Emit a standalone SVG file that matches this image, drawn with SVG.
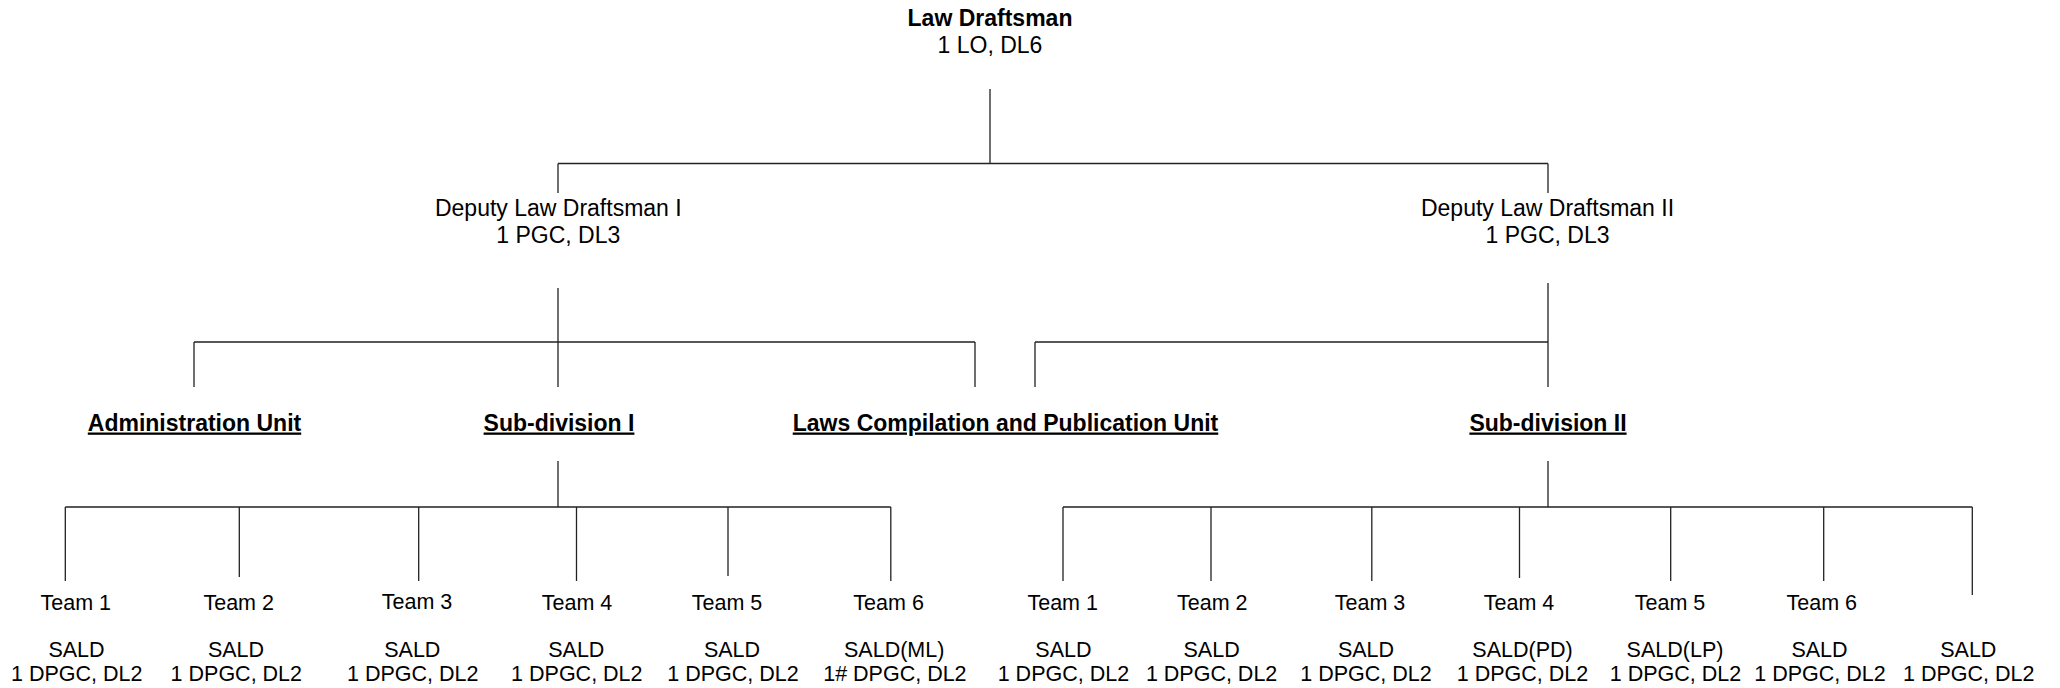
<svg xmlns="http://www.w3.org/2000/svg" width="2060" height="688" viewBox="0 0 2060 688">
<style>
text{font-family:"Liberation Sans",Arial,sans-serif;fill:#000;text-anchor:middle}
.t0{font-size:23px;font-weight:bold}
.t1{font-size:23px}
.t2{font-size:23px;font-weight:bold;text-decoration:underline}
.t3{font-size:21.5px}
.c{stroke:#222;stroke-width:1.3;fill:none}
</style>
<rect width="2060" height="688" fill="#fff"/>
<g id="connectors" class="c">
<path d="M990 89V163.5M558 163.5H1548M558 163.5V193M1548 163.5V193"/>
<path d="M558 288V387M194 342H975M194 342V387M975 342V387"/>
<path d="M1548 283V387M1035 342H1548M1035 342V387"/>
<path d="M558 461V507M65.3 507H890.8M65.3 507V581M239.3 507V577M418.7 507V581M576.5 507V581M728 507V576M890.8 507V581"/>
<path d="M1548 461V507M1063 507H1972.3M1063 507V581M1211 507V581M1371.8 507V581M1519.5 507V578M1670.7 507V581M1823.7 507V581M1972.3 507V595"/>
</g>
<g id="law-draftsman"><text class="t0" x="990" y="26">Law Draftsman</text><text class="t1" x="990" y="53.3">1 LO, DL6</text></g>
<g id="dld1"><text class="t1" x="558.3" y="215.7">Deputy Law Draftsman I</text><text class="t1" x="558.3" y="243.3">1 PGC, DL3</text></g>
<g id="dld2"><text class="t1" x="1547.5" y="215.7">Deputy Law Draftsman II</text><text class="t1" x="1547.5" y="243.3">1 PGC, DL3</text></g>
<g id="admin-unit"><text class="t2" x="194.5" y="430.5">Administration Unit</text></g>
<g id="subdiv1"><text class="t2" x="559" y="430.5">Sub-division I</text></g>
<g id="lcpu"><text class="t2" x="1005.5" y="430.5">Laws Compilation and Publication Unit</text></g>
<g id="subdiv2"><text class="t2" x="1548" y="430.5">Sub-division II</text></g>
<g id="s1-team1" class="t3"><text class="t3" x="75.8" y="610">Team 1</text><text class="t3" x="76.5" y="656.7">SALD</text><text class="t3" x="76.7" y="681">1 DPGC, DL2</text></g>
<g id="s1-team2"><text class="t3" x="238.7" y="610">Team 2</text><text class="t3" x="236" y="656.7">SALD</text><text class="t3" x="236.3" y="681">1 DPGC, DL2</text></g>
<g id="s1-team3"><text class="t3" x="417" y="609">Team 3</text><text class="t3" x="412.3" y="656.7">SALD</text><text class="t3" x="412.7" y="681">1 DPGC, DL2</text></g>
<g id="s1-team4"><text class="t3" x="577" y="610">Team 4</text><text class="t3" x="576.3" y="656.7">SALD</text><text class="t3" x="576.8" y="681">1 DPGC, DL2</text></g>
<g id="s1-team5"><text class="t3" x="727" y="610">Team 5</text><text class="t3" x="732" y="656.7">SALD</text><text class="t3" x="733" y="681">1 DPGC, DL2</text></g>
<g id="s1-team6"><text class="t3" x="888.6" y="610">Team 6</text><text class="t3" x="894.2" y="656.7">SALD(ML)</text><text class="t3" x="894.9" y="681">1# DPGC, DL2</text></g>
<g id="s2-team1"><text class="t3" x="1062.7" y="610">Team 1</text><text class="t3" x="1063.4" y="656.7">SALD</text><text class="t3" x="1063.4" y="681">1 DPGC, DL2</text></g>
<g id="s2-team2"><text class="t3" x="1212.3" y="610">Team 2</text><text class="t3" x="1211.6" y="656.7">SALD</text><text class="t3" x="1211.6" y="681">1 DPGC, DL2</text></g>
<g id="s2-team3"><text class="t3" x="1370" y="610">Team 3</text><text class="t3" x="1366" y="656.7">SALD</text><text class="t3" x="1366" y="681">1 DPGC, DL2</text></g>
<g id="s2-team4"><text class="t3" x="1519" y="610">Team 4</text><text class="t3" x="1522.5" y="656.7">SALD(PD)</text><text class="t3" x="1522.5" y="681">1 DPGC, DL2</text></g>
<g id="s2-team5"><text class="t3" x="1670" y="610">Team 5</text><text class="t3" x="1675" y="656.7">SALD(LP)</text><text class="t3" x="1675.5" y="681">1 DPGC, DL2</text></g>
<g id="s2-team6"><text class="t3" x="1821.8" y="610">Team 6</text><text class="t3" x="1819.5" y="656.7">SALD</text><text class="t3" x="1820" y="681">1 DPGC, DL2</text></g>
<g id="s2-team7"><text class="t3" x="1968.3" y="656.7">SALD</text><text class="t3" x="1968.7" y="681">1 DPGC, DL2</text></g>
</svg>
